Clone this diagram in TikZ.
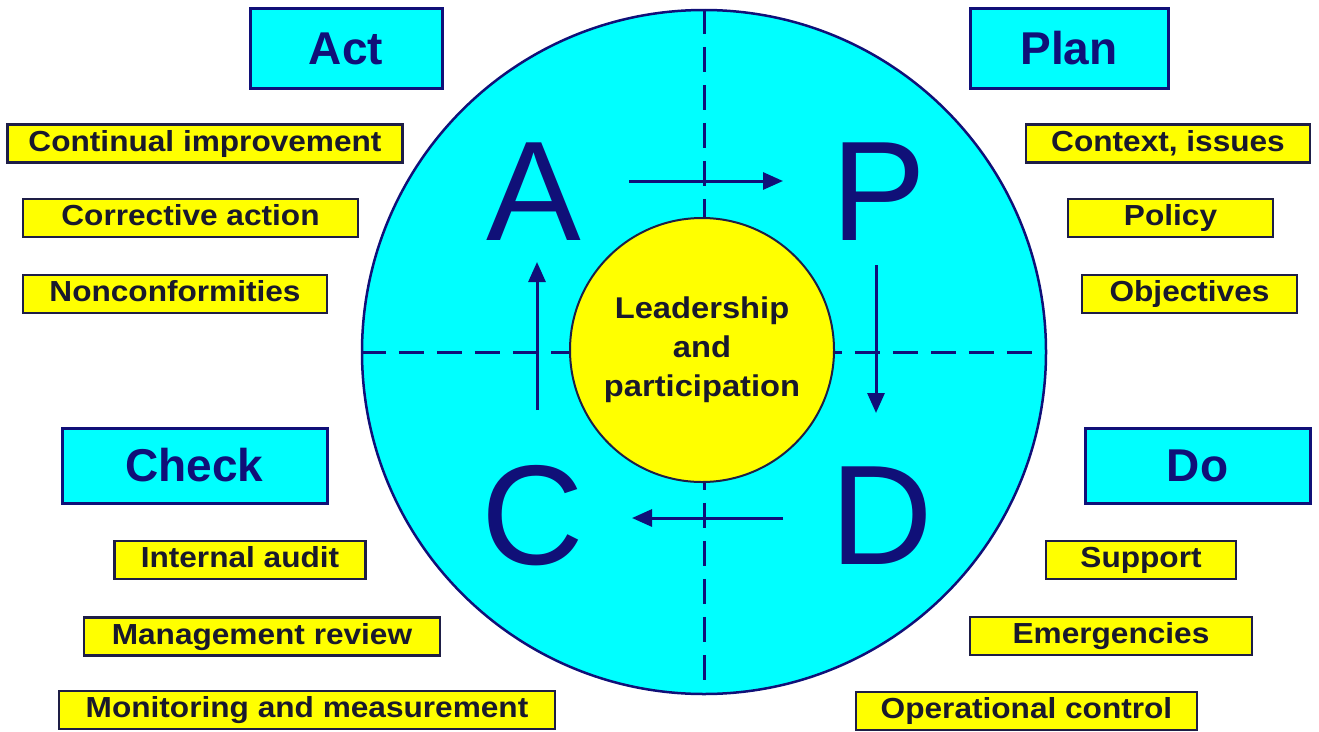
\documentclass[tikz,border=0pt]{standalone}
\usepackage{fontspec}
\setmainfont{Liberation Sans}
\newfontfamily\labfont[FakeStretch=1.09]{Liberation Sans}
\usetikzlibrary{arrows.meta}
\definecolor{navy}{RGB}{16,16,120}
\definecolor{cyanfill}{RGB}{0,255,255}
\definecolor{yel}{RGB}{255,255,0}
\definecolor{darktext}{RGB}{25,25,45}
\definecolor{edgecol}{RGB}{30,30,70}
\tikzset{
  phase/.style={draw=navy, line width=3pt, fill=cyanfill, text=navy,
    font=\fontsize{46}{50}\selectfont\bfseries, inner sep=0pt,
    text height=33pt, text depth=1pt},
  item/.style={draw=edgecol, line width=2.5pt, fill=yel, text=darktext,
    font=\labfont\fontsize{29}{32}\selectfont\bfseries, inner sep=0pt,
    minimum height=38pt, text height=21pt, text depth=6pt},
  bigletter/.style={text=navy, font=\fontsize{142}{142}\selectfont, inner sep=0pt, anchor=base},
  flow/.style={draw=navy, line width=3pt, -{Triangle[length=20pt,width=17pt]}},
  split/.style={draw=navy, line width=3pt, dash pattern=on 25pt off 13pt},
}
\begin{document}
\begin{tikzpicture}[x=1pt,y=-1pt]
\useasboundingbox (0,0) rectangle (1319,731);
% wheel
\node[circle, draw=navy, line width=2.5pt, fill=cyanfill, minimum size=684pt, inner sep=0pt] (wheel) at (704,352) {};
\draw[split] (wheel.north) -- (wheel.south);
\draw[split] (wheel.west) -- (wheel.east);
\node[circle, draw=edgecol, line width=2pt, fill=yel, minimum size=264pt, inner sep=0pt,
  align=center, text=darktext, font=\labfont\fontsize{30}{39}\selectfont\bfseries] (lead) at (702,350)
  {Leadership\\and\\participation};
% letters
\node[bigletter] (A) at (534,240) {A};
\node[bigletter] (P) at (879,240) {P};
\node[bigletter] (C) at (533,564) {C};
\node[bigletter] (D) at (882,564) {D};
% arrows
\coordinate (a1) at (629,181); \coordinate (a2) at (783,181);
\coordinate (p1) at (876,265); \coordinate (p2) at (876,413);
\coordinate (d1) at (783,518); \coordinate (d2) at (632,518);
\coordinate (c1) at (537,410); \coordinate (c2) at (537,262);
\draw[flow] (a1) -- (a2);
\draw[flow] (p1) -- (p2);
\draw[flow] (d1) -- (d2);
\draw[flow] (c1) -- (c2);
% phase boxes
\node[phase, minimum width=192pt, minimum height=80pt] (act) at (346,48) {Act};
\node[phase, minimum width=198pt, minimum height=80pt] (plan) at (1069,48) {Plan};
\node[phase, minimum width=265pt, minimum height=75pt] (check) at (194.5,465.5) {Check};
\node[phase, minimum width=225pt, minimum height=75pt] (do) at (1197.5,465.5) {Do};
% items
\node[item, minimum width=395pt] (ci) at (205,143.5) {Continual improvement};
\node[item, minimum width=335pt] (ca) at (190.5,218) {Corrective action};
\node[item, minimum width=304pt] (nc) at (175,294) {Nonconformities};
\node[item, minimum width=284pt] (cx) at (1168,143.5) {Context, issues};
\node[item, minimum width=205pt] (po) at (1170.5,218) {Policy};
\node[item, minimum width=215pt] (ob) at (1189.5,294) {Objectives};
\node[item, minimum width=251pt] (ia) at (240,560) {Internal audit};
\node[item, minimum width=356pt] (mr) at (262,636.5) {Management review};
\node[item, minimum width=496pt] (mm) at (307,710) {Monitoring and measurement};
\node[item, minimum width=190pt] (su) at (1141,560) {Support};
\node[item, minimum width=282pt] (em) at (1111,636) {Emergencies};
\node[item, minimum width=341pt] (oc) at (1026.5,711) {Operational control};
\end{tikzpicture}
\end{document}
